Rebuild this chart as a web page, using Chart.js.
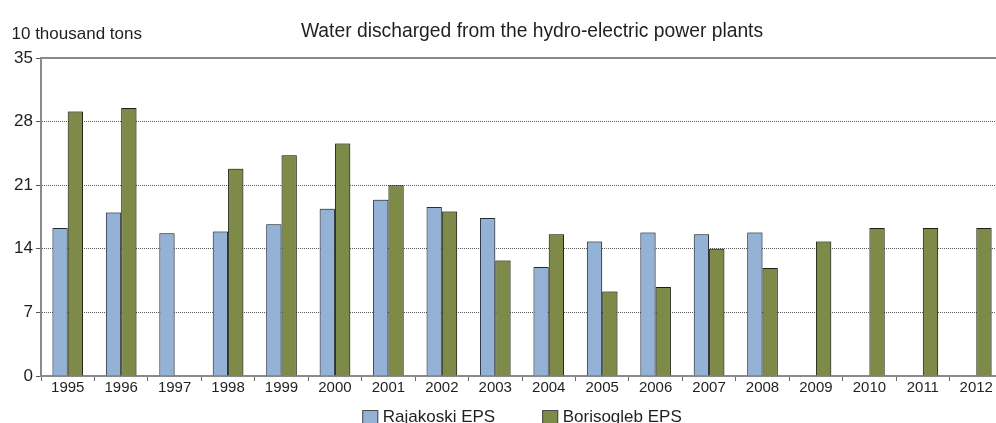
<!DOCTYPE html>
<html>
<head>
<meta charset="utf-8">
<script src="https://cdn.jsdelivr.net/npm/chart.js@4/dist/chart.umd.min.js"></script>
<style>
  html, body { margin: 0; padding: 0; background: #fff; overflow: hidden; width: 996px; height: 423px; }
  #wrap { position: relative; width: 1004px; height: 423px; }
</style>
</head>
<body>
<div id="wrap"><canvas id="chart" width="1004" height="423"></canvas></div>
<script>
// Water discharged, 10 thousand tons per year
const years = ['1995', '1996', '1997', '1998', '1999', '2000', '2001', '2002', '2003',
               '2004', '2005', '2006', '2007', '2008', '2009', '2010', '2011', '2012'];
const rajakoski = [16.3, 18.0, 15.7, 15.9, 16.7, 18.4, 19.4, 18.6, 17.4,
                   12.0, 14.8, 15.8, 15.6, 15.8, null, null, null, null];
const borisogleb = [29.1, 29.5, null, 22.8, 24.3, 25.6, 21.0, 18.1, 12.7,
                    15.6, 9.3, 9.8, 14.0, 11.9, 14.8, 16.3, 16.3, 16.3];
const seriesNames = ['Rajakoski EPS', 'Borisogleb EPS'];
const yTicks = [0, 7, 14, 21, 28, 35];
const chartTitle = 'Water discharged from the hydro-electric power plants';
const unitLabel = '10 thousand tons';

const FONT = '"Liberation Sans", Arial, Helvetica, sans-serif';
const TEXT = '#1f1f1f';
Chart.defaults.font.family = FONT;
Chart.defaults.color = TEXT;

// soft halo around the bars
const barHalo = {
  id: 'barHalo',
  beforeDatasetsDraw(chart) {
    const { ctx, chartArea: a } = chart;
    // solid frame line along the top of the plot
    ctx.save();
    ctx.strokeStyle = '#8a8a8a';
    ctx.lineWidth = 2;
    ctx.beginPath();
    ctx.moveTo(a.left, a.top);
    ctx.lineTo(a.right, a.top);
    ctx.stroke();
    ctx.restore();

    ctx.save();
    ctx.shadowColor = 'rgba(0,0,0,0.35)';
    ctx.shadowBlur = 2;
    ctx.shadowOffsetX = 0.5;
    ctx.shadowOffsetY = -0.5;
  },
  afterDatasetsDraw(chart) {
    chart.ctx.restore();
  }
};

// heading, unit caption and the series key
const annotations = {
  id: 'annotations',
  afterDraw(chart) {
    const { ctx, chartArea: a } = chart;
    ctx.save();
    ctx.fillStyle = TEXT;
    ctx.textBaseline = 'alphabetic';

    ctx.font = '19.3px ' + FONT;
    ctx.textAlign = 'center';
    ctx.fillText(chartTitle, 532, 37);

    ctx.font = '17px ' + FONT;
    ctx.textAlign = 'left';
    ctx.fillText(unitLabel, 11.5, 39);

    // key
    const box = 16, boxH = 14, gapText = 4.5, gapItem = 47;
    const items = chart.data.datasets.map(d => ({
      text: d.label, fill: d.backgroundColor, stroke: d.borderColor,
      w: ctx.measureText(d.label).width
    }));
    let total = 0;
    items.forEach((it, i) => { total += box + gapText + it.w + (i ? gapItem : 0); });
    let x = (a.left + a.right) / 2 - total / 2;
    const boxTop = 410, baseline = 421.5;
    items.forEach(it => {
      ctx.fillStyle = it.fill;
      ctx.fillRect(x, boxTop, box, boxH);
      ctx.strokeStyle = '#4a4a4a';
      ctx.lineWidth = 1;
      ctx.strokeRect(x + 0.5, boxTop + 0.5, box - 1, boxH - 1);
      ctx.fillStyle = TEXT;
      ctx.fillText(it.text, x + box + gapText, baseline);
      x += box + gapText + it.w + gapItem;
    });
    ctx.restore();
  }
};

new Chart(document.getElementById('chart'), {
  type: 'bar',
  data: {
    labels: years,
    datasets: [
      {
        label: seriesNames[0],
        data: rajakoski,
        backgroundColor: '#94b1d6',
        borderColor: '#2e3540',
        borderWidth: 1
      },
      {
        label: seriesNames[1],
        data: borisogleb,
        backgroundColor: '#7e8b48',
        borderColor: '#262a1a',
        borderWidth: 1
      }
    ]
  },
  options: {
    responsive: false,
    animation: false,
    devicePixelRatio: 1,
    layout: { padding: { top: 58, left: 0, right: 1, bottom: 22 } },
    datasets: { bar: { categoryPercentage: 0.573, barPercentage: 1.0 } },
    plugins: {
      legend: { display: false },
      title: { display: false },
      tooltip: { enabled: false }
    },
    scales: {
      x: {
        offset: true,
        grid: { offset: true, drawOnChartArea: false, tickLength: 5, tickColor: '#6a6a6a', tickWidth: 1 },
        border: { display: true, color: '#8a8a8a', width: 2 },
        ticks: { color: TEXT, font: { size: 15, lineHeight: 1 }, padding: -1, maxRotation: 0, autoSkip: false },
        afterFit(s) { s.height = 25; }
      },
      y: {
        min: 0,
        max: 35,
        afterBuildTicks(s) { s.ticks = yTicks.map(v => ({ value: v })); },
        ticks: { color: TEXT, font: { size: 17 }, padding: 3 },
        grid: { color: '#5a5a5a', lineWidth: 1, tickColor: '#555', tickLength: 5, tickBorderDash: [] },
        border: { display: true, color: '#8a8a8a', width: 2, dash: [1, 1] },
        afterFit(s) { s.width = 41; }
      }
    }
  },
  plugins: [barHalo, annotations]
});
</script>
</body>
</html>
